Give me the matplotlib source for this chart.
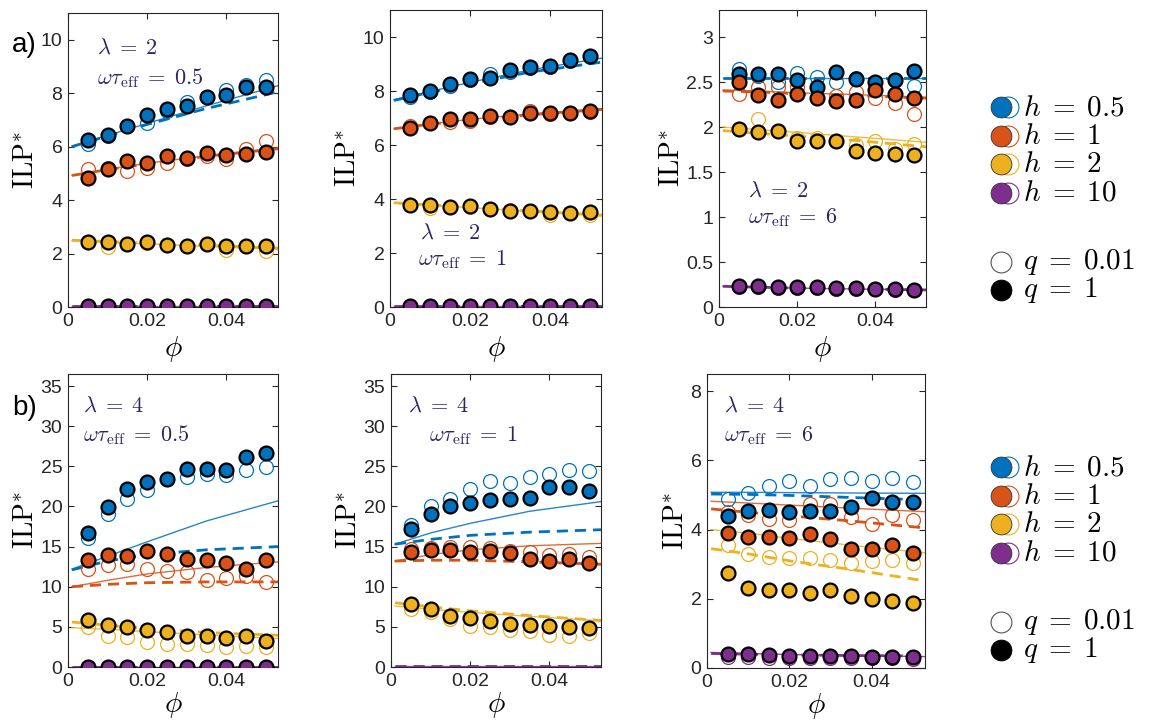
import numpy as np
import matplotlib
matplotlib.use("Agg")
import matplotlib.pyplot as plt
from matplotlib.ticker import FuncFormatter

plt.rcParams["font.family"] = ["Liberation Sans", "DejaVu Sans"]
plt.rcParams["mathtext.fontset"] = "cm"

# --- data -------------------------------------------------------------
phi = [0.005, 0.01, 0.015, 0.02, 0.025, 0.03, 0.035, 0.04, 0.045, 0.05]
phi_line = [0.001, 0.01, 0.02, 0.035, 0.053]

h_labels = ["0.5", "1", "2", "10"]
q_labels = ["0.01", "1"]
colors = ["#0072BD", "#D95319", "#EDB120", "#7E2F8E"]

# each list: h = 0.5, 1, 2, 10
a1_fill = [[6.25, 6.44, 6.78, 7.18, 7.40, 7.53, 7.84, 7.94, 8.24, 8.24],
           [4.84, 5.18, 5.46, 5.40, 5.65, 5.59, 5.75, 5.68, 5.71, 5.80],
           [2.42, 2.42, 2.35, 2.42, 2.32, 2.27, 2.35, 2.30, 2.27, 2.28],
           [0.03, 0.03, 0.03, 0.03, 0.03, 0.03, 0.03, 0.03, 0.03, 0.03]]
a1_open = [[6.09, 6.40, 6.78, 6.88, 7.34, 7.68, 7.84, 8.13, 8.30, 8.50],
           [5.15, 5.20, 5.09, 5.20, 5.40, 5.55, 5.65, 5.53, 5.93, 6.21],
           [2.42, 2.25, 2.35, 2.40, 2.32, 2.28, 2.35, 2.15, 2.30, 2.10],
           [0.02, 0.02, 0.02, 0.02, 0.02, 0.02, 0.02, 0.02, 0.02, 0.02]]
a1_solid = [[6.02, 6.42, 6.87, 7.53, 8.28],
            [4.93, 5.15, 5.38, 5.66, 5.95],
            [2.48, 2.42, 2.36, 2.27, 2.15],
            [0.02, 0.02, 0.02, 0.02, 0.02]]
a1_dash = [[6.00, 6.40, 6.83, 7.43, 8.05],
           [4.92, 5.14, 5.36, 5.64, 5.92],
           [2.50, 2.45, 2.39, 2.31, 2.20],
           [0.02, 0.02, 0.02, 0.02, 0.02]]

a2_fill = [[7.85, 8.00, 8.25, 8.44, 8.49, 8.77, 8.89, 8.92, 9.14, 9.30],
           [6.64, 6.82, 6.95, 6.96, 7.09, 7.04, 7.17, 7.17, 7.20, 7.25],
           [3.76, 3.78, 3.72, 3.74, 3.63, 3.57, 3.57, 3.51, 3.47, 3.51],
           [0.05, 0.05, 0.05, 0.05, 0.05, 0.05, 0.05, 0.05, 0.05, 0.05]]
a2_open = [[7.78, 7.98, 8.20, 8.40, 8.63, 8.70, 8.85, 8.90, 9.10, 9.25],
           [6.72, 6.80, 6.85, 6.90, 7.05, 7.05, 7.25, 7.15, 7.20, 7.22],
           [3.78, 3.65, 3.72, 3.72, 3.63, 3.60, 3.55, 3.42, 3.48, 3.40],
           [0.04, 0.04, 0.04, 0.04, 0.04, 0.04, 0.04, 0.04, 0.04, 0.04]]
a2_solid = [[7.68, 7.98, 8.32, 8.78, 9.22],
            [6.60, 6.78, 6.95, 7.15, 7.35],
            [3.85, 3.77, 3.68, 3.54, 3.37],
            [0.03, 0.03, 0.03, 0.03, 0.03]]
a2_dash = [[7.65, 7.95, 8.27, 8.70, 9.07],
           [6.60, 6.77, 6.93, 7.12, 7.32],
           [3.86, 3.78, 3.69, 3.56, 3.40],
           [0.03, 0.03, 0.03, 0.03, 0.03]]

a3_fill = [[2.59, 2.59, 2.59, 2.52, 2.45, 2.61, 2.53, 2.50, 2.52, 2.62],
           [2.50, 2.36, 2.30, 2.37, 2.32, 2.29, 2.30, 2.41, 2.37, 2.32],
           [1.98, 1.94, 1.96, 1.85, 1.85, 1.84, 1.73, 1.71, 1.70, 1.69],
           [0.23, 0.23, 0.22, 0.22, 0.22, 0.21, 0.21, 0.20, 0.20, 0.19]]
a3_open = [[2.65, 2.57, 2.50, 2.60, 2.56, 2.50, 2.55, 2.50, 2.52, 2.46],
           [2.37, 2.44, 2.45, 2.44, 2.43, 2.35, 2.39, 2.32, 2.27, 2.15],
           [1.98, 2.09, 1.96, 1.88, 1.88, 1.85, 1.80, 1.85, 1.76, 1.81],
           [0.22, 0.22, 0.21, 0.21, 0.21, 0.20, 0.20, 0.20, 0.19, 0.19]]
a3_solid = [[2.55, 2.55, 2.55, 2.55, 2.55],
            [2.41, 2.40, 2.38, 2.36, 2.33],
            [2.00, 1.97, 1.94, 1.89, 1.83],
            [0.23, 0.22, 0.21, 0.20, 0.19]]
a3_dash = [[2.54, 2.54, 2.54, 2.54, 2.54],
           [2.40, 2.39, 2.37, 2.35, 2.32],
           [1.96, 1.93, 1.90, 1.85, 1.78],
           [0.23, 0.22, 0.21, 0.20, 0.19]]

b1_fill = [[16.67, 19.9, 22.15, 23.1, 23.4, 24.68, 24.64, 24.55, 26.2, 26.7],
           [13.36, 13.98, 13.85, 14.4, 14.1, 13.44, 13.36, 12.94, 12.24, 13.36],
           [5.8, 5.27, 4.98, 4.56, 4.31, 3.9, 3.8, 3.6, 3.8, 3.2],
           [0.05, 0.05, 0.05, 0.05, 0.05, 0.05, 0.05, 0.05, 0.05, 0.05]]
b1_open = [[16.05, 19.08, 20.9, 22.07, 23.4, 23.7, 24.05, 23.9, 24.55, 24.9],
           [12.2, 12.7, 12.86, 12.2, 12.0, 11.86, 10.87, 11.07, 11.36, 10.53],
           [4.98, 3.9, 3.7, 3.07, 2.9, 2.9, 2.78, 2.5, 2.65, 2.5],
           [0.04, 0.04, 0.04, 0.04, 0.04, 0.04, 0.04, 0.04, 0.04, 0.04]]
b1_solid = [[12.2, 13.8, 15.6, 18.2, 20.7],
            [10.0, 10.8, 11.6, 12.4, 13.1],
            [4.9, 4.7, 4.4, 4.0, 3.55],
            [0.05, 0.05, 0.05, 0.05, 0.05]]
b1_dash = [[12.1, 13.2, 14.0, 14.6, 15.0],
           [10.0, 10.3, 10.5, 10.6, 10.6],
           [5.6, 5.2, 4.8, 4.3, 3.95],
           [0.05, 0.05, 0.05, 0.05, 0.05]]

b2_fill = [[17.2, 19.1, 20.0, 20.4, 20.8, 20.9, 21.1, 22.4, 22.4, 21.9],
           [14.3, 14.6, 14.6, 14.3, 14.4, 14.2, 13.4, 13.15, 13.4, 13.0],
           [7.84, 7.2, 6.4, 6.1, 5.7, 5.4, 5.2, 5.06, 4.94, 4.85],
           None]
b2_open = [[17.7, 20.0, 20.9, 22.2, 23.2, 22.9, 23.7, 24.1, 24.6, 24.4],
           [14.7, 14.8, 15.0, 14.9, 14.8, 14.4, 14.3, 14.0, 14.1, 13.65],
           [7.2, 6.9, 6.0, 5.15, 5.0, 4.65, 4.45, 4.0, 3.9, 4.2],
           None]
b2_solid = [[15.3, 16.7, 17.9, 19.4, 20.6],
            [13.2, 14.0, 14.6, 15.1, 15.4],
            [7.6, 7.2, 6.8, 6.3, 5.75],
            [0.15, 0.15, 0.15, 0.15, 0.15]]
b2_dash = [[15.3, 15.9, 16.4, 16.8, 17.1],
           [13.2, 13.3, 13.3, 13.1, 12.8],
           [8.0, 7.5, 7.0, 6.4, 5.8],
           [0.12, 0.12, 0.12, 0.12, 0.12]]

b3_fill = [[4.39, 4.54, 4.56, 4.51, 4.54, 4.54, 4.66, 4.92, 4.80, 4.80],
           [3.89, 3.79, 3.79, 3.75, 3.87, 3.72, 3.43, 3.43, 3.55, 3.33],
           [2.74, 2.32, 2.26, 2.26, 2.18, 2.26, 2.08, 1.99, 1.95, 1.87],
           [0.41, 0.40, 0.37, 0.36, 0.35, 0.34, 0.34, 0.33, 0.33, 0.32]]
b3_open = [[4.90, 5.06, 5.25, 5.41, 5.25, 5.45, 5.50, 5.41, 5.48, 5.38],
           [4.50, 4.42, 4.32, 4.27, 4.74, 4.74, 4.37, 4.15, 4.42, 4.27],
           [3.55, 3.31, 3.22, 3.17, 3.17, 3.12, 3.05, 3.10, 3.12, 3.05],
           [0.33, 0.32, 0.30, 0.30, 0.29, 0.29, 0.28, 0.28, 0.28, 0.27]]
b3_solid = [[5.08, 5.08, 5.07, 5.06, 5.05],
            [4.82, 4.77, 4.71, 4.62, 4.52],
            [4.00, 3.90, 3.75, 3.55, 3.33],
            [0.45, 0.42, 0.39, 0.36, 0.33]]
b3_dash = [[5.03, 5.02, 4.99, 4.93, 4.86],
           [4.60, 4.50, 4.40, 4.25, 4.05],
           [3.45, 3.30, 3.10, 2.85, 2.52],
           [0.42, 0.40, 0.38, 0.36, 0.35]]

lambdas = [2, 2, 2, 4, 4, 4]
omegas = ["0.5", "1", "6", "0.5", "1", "6"]
ylims = [11, 11, 3.3, 36.5, 36.5, 8.5]
ysteps = [2, 2, 0.5, 5, 5, 2]

# --- figure -----------------------------------------------------------
fig = plt.figure(figsize=(11.54, 7.22), dpi=100)

# axes rectangles in pixels (left, top, right, bottom)
boxes = [(68, 13, 278, 307), (390, 10, 602, 307), (719, 10, 926, 307),
         (68, 374, 278, 667), (391, 374, 601, 667), (707, 374, 925, 668)]
# annotation positions (axes fraction): lambda, omega
ann = [((0.14, 0.88), (0.14, 0.78)), ((0.14, 0.25), (0.13, 0.16)),
       ((0.14, 0.39), (0.14, 0.30)), ((0.07, 0.89), (0.07, 0.79)),
       ((0.08, 0.89), (0.18, 0.79)), ((0.08, 0.89), (0.08, 0.79))]

panels = [(a1_fill, a1_open, a1_solid, a1_dash),
          (a2_fill, a2_open, a2_solid, a2_dash),
          (a3_fill, a3_open, a3_solid, a3_dash),
          (b1_fill, b1_open, b1_solid, b1_dash),
          (b2_fill, b2_open, b2_solid, b2_dash),
          (b3_fill, b3_open, b3_solid, b3_dash)]

W, H = 1154, 722
fmt = FuncFormatter(lambda v, p: f"{v:g}")
text_col = "#2f2466"
EQ = r"\;=\;"

for i, (fill, opn, sol, dsh) in enumerate(panels):
    l, t, r, b = boxes[i]
    ax = fig.add_axes([l / W, 1 - b / H, (r - l) / W, (b - t) / H])

    for k in range(4):
        ax.plot(phi_line, sol[k], color=colors[k], lw=1.0, alpha=0.85, zorder=2)
        ax.plot(phi_line, dsh[k], color=colors[k], lw=2.0, ls=(0, (4, 2.5)), zorder=2)
    for k in range(4):
        if opn[k] is not None:
            ax.plot(phi, opn[k], "o", ms=10, mfc="none", mec=colors[k], mew=0.9, zorder=3)
    for k in range(4):
        if fill[k] is not None:
            ax.plot(phi, fill[k], "o", ms=10, mfc=colors[k], mec="black", mew=1.6, zorder=4)

    ax.set_xlim(0, 0.053)
    ax.set_ylim(0, ylims[i])
    ax.set_xticks([0, 0.02, 0.04])
    ax.set_yticks(np.arange(0, ylims[i] + 1e-9, ysteps[i]))
    ax.xaxis.set_major_formatter(fmt)
    ax.yaxis.set_major_formatter(fmt)
    ax.tick_params(direction="in", length=4, width=0.8, top=True, right=True,
                   labelsize=14, colors="#262626", pad=4)
    for s in ax.spines.values():
        s.set_color("#262626")
        s.set_linewidth(0.8)
    ax.set_ylabel(r"$\mathrm{ILP}^{*}$", fontsize=20, labelpad=1)
    ax.set_xlabel(r"$\phi$", fontsize=21, labelpad=3 if i < 3 else 0)

    (lx, ly), (ox, oy) = ann[i]
    ax.text(lx, ly, rf"$\lambda{EQ}{lambdas[i]}$", transform=ax.transAxes,
            fontsize=16, color=text_col, va="center", ha="left")
    ax.text(ox, oy, rf"$\omega\tau_{{\rm eff}}{EQ}{omegas[i]}$", transform=ax.transAxes,
            fontsize=16, color=text_col, va="center", ha="left")

fig.text(12 / W, 1 - 45 / H, "a)", fontsize=20, va="center", ha="left")
fig.text(12 / W, 1 - 408 / H, "b)", fontsize=20, va="center", ha="left")

# --- legends (drawn in pixel coordinates) ----------------------------
lg = fig.add_axes([0, 0, 1, 1], zorder=-1)
lg.set_xlim(0, W)
lg.set_ylim(H, 0)
lg.axis("off")
for y0 in (107, 467):
    for k in range(4):
        yy = y0 + k * 28.5
        lg.plot([1008], [yy], "o", ms=15, mfc="white", mec=colors[k], mew=0.8)
        lg.plot([1001], [yy], "o", ms=15, mfc=colors[k], mec="#333333", mew=0.6)
        lg.text(1023, yy, rf"$h{EQ}{h_labels[k]}$", fontsize=21, va="center", ha="left")
    for j, yy in enumerate((y0 + 155, y0 + 183)):
        if j == 0:
            lg.plot([1001], [yy], "o", ms=15, mfc="white", mec="#555555", mew=0.8)
        else:
            lg.plot([1001], [yy], "o", ms=15, mfc="black", mec="black", mew=0.6)
        lg.text(1023, yy, rf"$q{EQ}{q_labels[j]}$", fontsize=21, va="center", ha="left")

fig.savefig("out.png", dpi=100)
